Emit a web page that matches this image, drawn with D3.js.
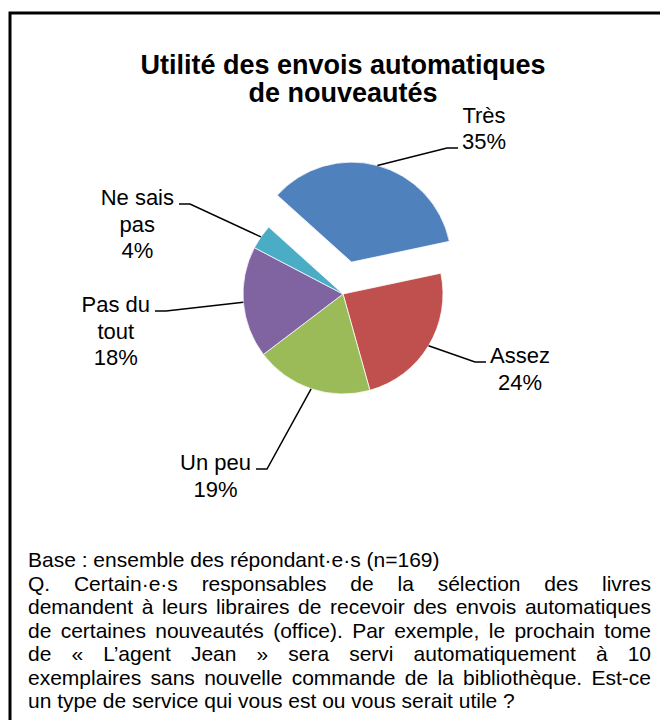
<!DOCTYPE html>
<html>
<head>
<meta charset="utf-8">
<script src="https://cdn.jsdelivr.net/npm/d3@7"></script>
<style>
  body { margin: 0; background: #fff; }
  text { font-family: "Liberation Sans", Arial, sans-serif; fill: #000; }
</style>
</head>
<body>
<div id="chart"></div>
<script>
// data
var categories = ["Très", "Assez", "Un peu", "Pas du tout", "Ne sais pas"],
    values = [35, 24, 19, 18, 4],
    labelLines = [["Très"], ["Assez"], ["Un peu"], ["Pas du", "tout"], ["Ne sais", "pas"]],
    colors = ["#4F81BD", "#C0504D", "#9BBB59", "#8064A2", "#4BACC6"],
    exploded = ["Très"],
    titleLines = ["Utilité des envois automatiques", "de nouveautés"],
    noteLines = [
        "Base : ensemble des répondant·e·s (n=169)",
        "Q. Certain·e·s responsables de la sélection des livres",
        "demandent à leurs libraires de recevoir des envois automatiques",
        "de certaines nouveautés (office). Par exemple, le prochain tome",
        "de « L’agent Jean » sera servi automatiquement à 10",
        "exemplaires sans nouvelle commande de la bibliothèque. Est-ce",
        "un type de service qui vous est ou vous serait utile ?"
    ],
    noteJustify = [false, true, true, true, true, true, false];

// layout
var width = 660, height = 720,
    cx = 343, cy = 294, radius = 100, explode = 33,
    startAngle = -48 * Math.PI / 180,
    labelFont = 22, labelLH = 26.5,
    noteFont = 21, noteLH = 23.5, noteLeft = 28, noteRight = 651, noteTop = 567,
    // leader end point relative to pie centre, and which text line it attaches to
    labelAnchor = [[115, -146, 1], [143, 68, 0], [-87, 175, 0], [-188, 17, 0], [-164, -90, 0]];

var svg = d3.select("#chart").append("svg")
    .attr("width", width)
    .attr("height", height);

// frame (open to the right and bottom, like the cropped source)
svg.append("rect")
    .attr("x", 10).attr("y", 13)
    .attr("width", width + 20).attr("height", height + 20)
    .attr("fill", "none")
    .attr("stroke", "#000")
    .attr("stroke-width", 3);

svg.selectAll(".title")
    .data(titleLines)
    .enter().append("text")
    .attr("class", "title")
    .attr("x", cx)
    .attr("y", function(d, i) { return 74 + i * 28; })
    .attr("text-anchor", "middle")
    .style("font-size", "27px")
    .style("font-weight", "bold")
    .text(function(d) { return d; });

var pie = d3.pie().sort(null).value(function(d) { return d; })
    .startAngle(startAngle).endAngle(startAngle + 2 * Math.PI);
var arcs = pie(values);

var arc = d3.arc().innerRadius(0).outerRadius(radius);
var edge = d3.arc().innerRadius(radius).outerRadius(radius);

function offset(d, i) {
    if (exploded.indexOf(categories[i]) < 0) return [0, 0];
    var a = (d.startAngle + d.endAngle) / 2;
    return [Math.sin(a) * explode, -Math.cos(a) * explode];
}

var g = svg.append("g").attr("transform", "translate(" + cx + "," + cy + ")");

g.selectAll(".slice")
    .data(arcs)
    .enter().append("path")
    .attr("class", "slice")
    .attr("transform", function(d, i) { var o = offset(d, i); return "translate(" + o[0] + "," + o[1] + ")"; })
    .attr("d", arc)
    .attr("fill", function(d, i) { return colors[i]; })
    .attr("stroke", "#fff")
    .attr("stroke-width", 0.75);

// leader lines
g.selectAll(".leader")
    .data(arcs)
    .enter().append("polyline")
    .attr("class", "leader")
    .attr("fill", "none")
    .attr("stroke", "#000")
    .attr("stroke-width", 1.5)
    .attr("points", function(d, i) {
        var o = offset(d, i), p = edge.centroid(d), an = labelAnchor[i];
        var elbowX = an[0] > 0 ? an[0] - 11 : an[0] + 11;
        return [[p[0] + o[0], p[1] + o[1]], [elbowX, an[1]], [an[0], an[1]]].join(" ");
    });

// labels
arcs.forEach(function(d, i) {
    var lines = labelLines[i].concat([values[i] + "%"]),
        an = labelAnchor[i];
    var t = g.append("text")
        .attr("class", "label")
        .attr("text-anchor", "middle")
        .style("font-size", labelFont + "px");
    var spans = t.selectAll("tspan").data(lines).enter().append("tspan").text(function(s) { return s; });
    var maxW = 0;
    spans.each(function() { maxW = Math.max(maxW, this.getComputedTextLength()); });
    var centre = an[0] > 0 ? an[0] + 4 + maxW / 2 : an[0] - 5 - maxW / 2;
    spans.attr("x", centre)
        .attr("y", function(s, k) { return an[1] + 1 + (k - an[2]) * labelLH; });
});

// note under the chart, justified like the source
noteLines.forEach(function(line, i) {
    var y = noteTop + i * noteLH;
    var t = svg.append("text")
        .attr("class", "note")
        .attr("y", y)
        .style("font-size", noteFont + "px");
    if (!noteJustify[i]) {
        t.attr("x", noteLeft).text(line);
        return;
    }
    var words = line.split(" ");
    var spans = t.selectAll("tspan").data(words).enter().append("tspan").text(function(w) { return w; });
    var widths = [];
    spans.each(function() { widths.push(this.getComputedTextLength()); });
    var gap = (noteRight - noteLeft - d3.sum(widths)) / (words.length - 1);
    var x = noteLeft;
    spans.attr("x", function(w, k) { var v = x; x += widths[k] + gap; return v; });
});
</script>
</body>
</html>
